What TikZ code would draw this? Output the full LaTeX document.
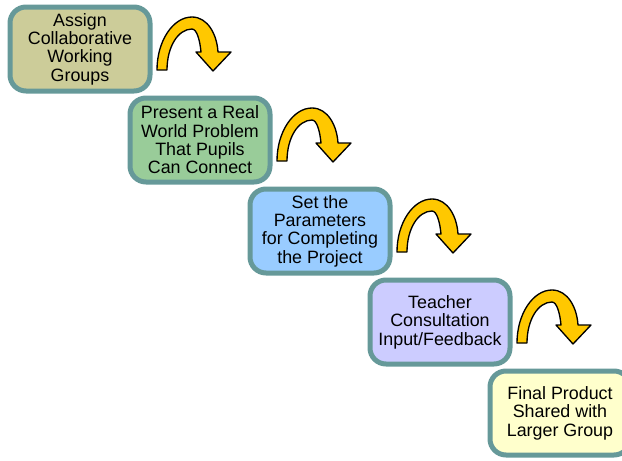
\documentclass[tikz,border=0pt]{standalone}
\usepackage{fontspec}
\setmainfont{Liberation Sans}
\usetikzlibrary{positioning}

\definecolor{boxedge}{HTML}{669999}
\definecolor{khaki}{HTML}{CCCC99}
\definecolor{sage}{HTML}{99CC99}
\definecolor{sky}{HTML}{99CCFF}
\definecolor{lavender}{HTML}{CCCCFF}
\definecolor{cream}{HTML}{FFFFCC}
\definecolor{arrowgold}{HTML}{FFC800}

\tikzset{
  stepbox/.style={draw=boxedge, line width=3.75pt, rounded corners=12pt,
    minimum width=105pt, minimum height=63pt, inner sep=2pt, align=center,
    font=\fontsize{13.4}{13.8}\selectfont},
  turnarrow/.style={fill=arrowgold, draw=black, line width=1pt, line join=round}
}

\begin{document}
\begin{tikzpicture}[x=0.75pt, y=-0.75pt]
    % Fix the page to the size of the reference
    \useasboundingbox (0,0) rectangle (622,461);

    % Step between two boxes
    \def\dx{120}
    \def\dy{91}

    % Draw the steps of the project
    \node[stepbox, fill=khaki] (assign) at (80,49) {Assign\\Collaborative\\Working\\Groups};
    \node[stepbox, fill=sage] (present) at (80+\dx,49+\dy) {Present a Real\\World Problem\\That Pupils\\Can Connect};
    \node[stepbox, fill=sky] (params) at (80+2*\dx,49+2*\dy) {Set the\\Parameters\\for Completing\\the Project};
    \node[stepbox, fill=lavender] (consult) at (80+3*\dx,49+3*\dy) {Teacher\\Consultation\\Input/Feedback};
    \node[stepbox, fill=cream] (final) at (80+4*\dx,49+4*\dy) {Final Product\\Shared with\\Larger Group};

    % Draw the curved arrows beside each box
    \foreach \a in {assign,present,params,consult}
      \draw[turnarrow, shift={(\a.center)}] (77,21)
        .. controls (77,-8) and (93,-32) .. (112,-32)
        .. controls (128,-32) and (137,-14) .. (138,3)
        -- (151,3) -- (133,22) -- (116,3) -- (121,3)
        .. controls (120,-8) and (117,-20) .. (112,-20)
        .. controls (98,-20) and (87,-2) .. (87,21) -- cycle;

\end{tikzpicture}
\end{document}
